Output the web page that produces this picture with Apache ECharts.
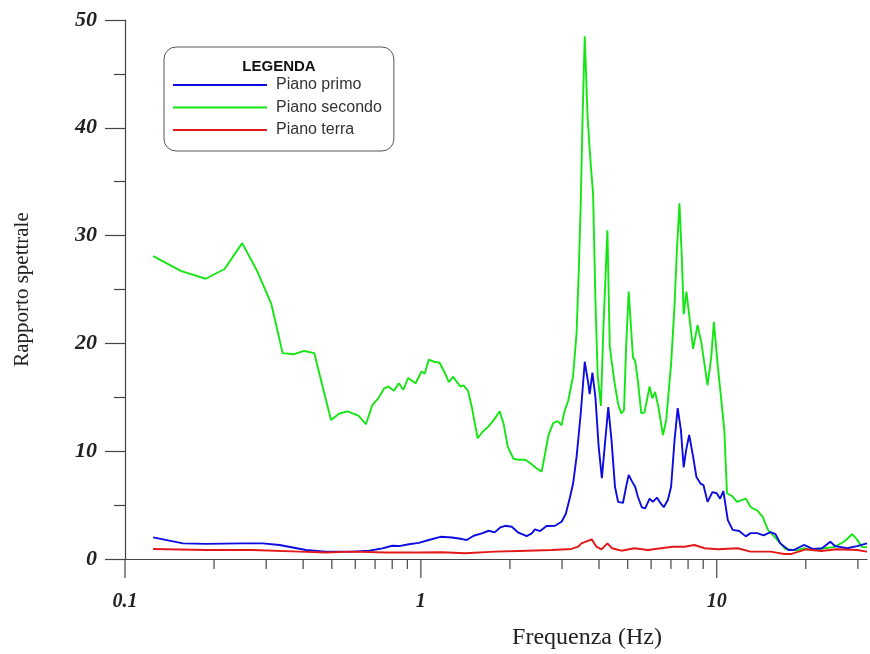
<!DOCTYPE html>
<html>
<head>
<meta charset="utf-8">
<script src="https://cdn.jsdelivr.net/npm/echarts@6/dist/echarts.min.js"></script>
<style>html,body{margin:0;padding:0;background:#fff}#c{width:870px;height:654px}</style>
</head>
<body>
<div id="c"></div>
<script>
// ---- data ----
const seriesNames = ['Piano primo', 'Piano secondo', 'Piano terra'];

const freqPrimo = [0.1245,0.157,0.188,0.25,0.292,0.333,0.409,0.477,0.587,0.668,0.741,0.8,0.843,0.911,0.985,1.064,1.165,1.275,1.378,1.43,1.508,1.608,1.694,1.775,1.855,1.928,2.029,2.137,2.279,2.37,2.43,2.53,2.66,2.84,2.99,3.09,3.19,3.27,3.36,3.47,3.58,3.68,3.72,3.8,3.89,3.99,4.09,4.18,4.3,4.41,4.53,4.64,4.82,4.94,5.04,5.17,5.3,5.41,5.58,5.73,5.93,6.08,6.28,6.45,6.62,6.84,7.01,7.2,7.38,7.57,7.73,7.88,8.07,8.32,8.54,8.81,9.02,9.31,9.67,10.0,10.26,10.53,10.9,11.32,11.91,12.54,13.0,13.7,14.4,15.2,15.8,16.4,17.5,18.2,19.7,21.1,22.7,24.2,25.1,27.6,29.8,32.2];
const valPrimo  = [2.0,1.45,1.4,1.45,1.45,1.3,0.83,0.68,0.68,0.77,0.99,1.23,1.2,1.37,1.5,1.76,2.06,2.0,1.85,1.76,2.16,2.38,2.62,2.47,2.93,3.08,2.99,2.44,2.13,2.38,2.75,2.59,3.06,3.08,3.45,4.2,5.7,7.0,9.5,13.5,18.3,16.3,15.3,17.3,15.0,10.4,7.5,10.4,14.1,11.0,6.7,5.3,5.2,6.7,7.8,7.2,6.7,5.8,4.8,4.7,5.6,5.3,5.7,5.2,4.8,5.5,6.7,11.0,14.0,11.9,8.5,10.1,11.5,9.5,7.6,7.0,6.85,5.3,6.2,6.1,5.6,6.3,3.6,2.7,2.6,2.1,2.4,2.4,2.2,2.5,2.3,1.45,0.83,0.83,1.3,0.93,1.0,1.6,1.2,1.0,1.2,1.45];

const freqSecondo = [0.1245,0.155,0.1875,0.217,0.249,0.281,0.312,0.341,0.373,0.403,0.436,0.497,0.53,0.565,0.615,0.652,0.686,0.718,0.75,0.776,0.811,0.843,0.872,0.906,0.96,1.005,1.031,1.064,1.106,1.156,1.204,1.243,1.285,1.36,1.396,1.443,1.489,1.556,1.617,1.694,1.775,1.846,1.902,1.967,2.056,2.137,2.252,2.34,2.465,2.56,2.63,2.7,2.8,2.9,2.99,3.05,3.15,3.27,3.36,3.42,3.47,3.52,3.58,3.66,3.75,3.82,3.89,3.96,4.06,4.14,4.27,4.35,4.5,4.64,4.76,4.86,4.94,5.04,5.21,5.3,5.41,5.56,5.7,5.93,6.05,6.19,6.35,6.58,6.75,7.01,7.2,7.33,7.48,7.62,7.73,7.9,8.32,8.61,8.88,9.31,9.58,9.78,10.09,10.34,10.61,10.83,11.32,11.7,12.54,13.04,13.7,14.3,14.9,16.0,17.1,18.7,19.7,21.1,23.1,24.9,26.9,28.7,29.8,31.0,32.2];
const valSecondo  = [28.1,26.7,26.0,26.9,29.3,26.6,23.7,19.1,19.0,19.3,19.1,12.9,13.5,13.7,13.3,12.5,14.3,14.9,15.8,16.0,15.6,16.3,15.7,16.8,16.3,17.4,17.2,18.5,18.3,18.2,17.3,16.4,16.9,16.0,16.1,15.6,14.0,11.2,11.8,12.3,13.0,13.7,12.6,10.4,9.3,9.2,9.2,8.9,8.4,8.1,9.8,11.5,12.6,12.8,12.4,13.6,14.7,17.0,21.0,27.0,33.0,41.0,48.5,41.0,36.6,33.9,24.0,17.0,14.2,21.5,30.5,19.7,16.6,14.4,13.5,13.8,19.7,24.8,18.7,18.4,16.6,13.5,13.6,16.0,14.9,15.5,14.1,11.5,12.9,18.1,23.5,28.5,33.0,28.0,22.7,24.8,19.5,21.7,20.0,16.1,18.7,22.0,17.8,15.0,11.9,6.1,5.8,5.3,5.6,4.8,4.5,3.9,2.7,1.8,0.9,0.8,1.0,0.8,1.0,1.1,1.6,2.3,1.8,1.1,1.1];

const freqTerra = [0.1245,0.188,0.27,0.389,0.477,0.587,0.76,0.985,1.18,1.41,1.78,2.14,2.77,3.23,3.4,3.49,3.78,3.92,4.08,4.27,4.43,4.76,5.27,5.85,6.48,7.1,7.79,8.4,9.1,10.09,11.77,13.0,15.2,16.9,17.8,20.0,22.5,25.5,29.8,32.2];
const valTerra  = [0.93,0.83,0.83,0.68,0.6,0.68,0.6,0.6,0.62,0.53,0.68,0.74,0.83,0.93,1.14,1.45,1.82,1.14,0.9,1.45,1.0,0.77,1.0,0.83,1.0,1.14,1.14,1.3,1.0,0.9,1.0,0.68,0.68,0.46,0.46,0.9,0.74,0.9,0.83,0.68];

const xLabelVals = [0.1, 1, 10];
const xMajorTicks = [0.1, 1, 10];
const xMinorTicks = [0.2,0.3,0.4,0.5,0.6,0.7,0.8,0.9,2,3,4,5,6,7,8,9,20,30];

// ---- chart ----
const zip = (f, v) => f.map((x, i) => [x, v[i]]);
const colors = ['#0c0ce0', '#14e614', '#e41818'];
const serifFont = '"Liberation Serif","Times New Roman",serif';
const sansFont = '"Liberation Sans",Arial,sans-serif';

const tickData = xMajorTicks.map(v => [v, 0, 1]).concat(xMinorTicks.map(v => [v, 0, 0]));

const chart = echarts.init(document.getElementById('c'), null, {renderer: 'canvas'});
chart.setOption({
  animation: false,
  backgroundColor: '#fff',
  grid: {left: 125, right: 0, top: 20, bottom: 95, containLabel: false},
  legend: {
    data: seriesNames,
    orient: 'vertical',
    left: 164, top: 47,
    padding: [30, 12, 13, 9],
    itemWidth: 94, itemHeight: 2, itemGap: 6.5, itemTextGap: 9,
    icon: 'rect',
    backgroundColor: '#fff',
    borderColor: '#555', borderWidth: 1, borderRadius: 12,
    textStyle: {fontFamily: sansFont, fontSize: 16, color: '#333', padding: [0, 0, 0, 4]},
    selectedMode: false
  },
  graphic: [
    {type: 'text', z: 100, x: 279, y: 67,
     style: {text: 'LEGENDA', font: 'bold 15px ' + sansFont, fill: '#111', align: 'center', verticalAlign: 'middle'}},
    {type: 'text', z: 100, x: 587, y: 638,
     style: {text: 'Frequenza (Hz)', font: '24px ' + serifFont, fill: '#222', align: 'center', verticalAlign: 'middle'}}
  ],
  xAxis: {
    type: 'log', logBase: 10, min: 0.1, max: 32.2,
    axisLine: {show: true, lineStyle: {color: '#444', width: 1.2}},
    axisTick: {show: false},
    splitLine: {show: false},
    minorTick: {show: false},
    axisLabel: {
      margin: 33,
      fontFamily: serifFont, fontStyle: 'italic', fontWeight: 'bold', fontSize: 20, color: '#222',
      showMinLabel: true, showMaxLabel: true,
      formatter: function (v) {
        for (const t of xLabelVals) { if (Math.abs(v - t) / t < 1e-6) return String(t); }
        return '';
      }
    }
  },
  yAxis: {
    type: 'value', min: 0, max: 50, interval: 10,
    name: 'Rapporto spettrale', nameLocation: 'middle', nameGap: 92,
    nameTextStyle: {fontFamily: serifFont, fontSize: 21, color: '#222'},
    axisLine: {show: true, lineStyle: {color: '#444', width: 1.2}},
    axisTick: {show: true, length: 20, lineStyle: {color: '#444', width: 1.2}},
    minorTick: {show: true, splitNumber: 2, length: 11, lineStyle: {color: '#444', width: 1.2}},
    splitLine: {show: false},
    axisLabel: {margin: 28, fontFamily: serifFont, fontStyle: 'italic', fontWeight: 'bold', fontSize: 22, color: '#222'}
  },
  series: [
    {name: seriesNames[0], type: 'line', data: zip(freqPrimo, valPrimo), showSymbol: false, symbol: 'none',
     lineStyle: {color: colors[0], width: 1.9}, itemStyle: {color: colors[0]}, z: 3},
    {name: seriesNames[1], type: 'line', data: zip(freqSecondo, valSecondo), showSymbol: false, symbol: 'none',
     lineStyle: {color: colors[1], width: 1.9}, itemStyle: {color: colors[1]}, z: 2},
    {name: seriesNames[2], type: 'line', data: zip(freqTerra, valTerra), showSymbol: false, symbol: 'none',
     lineStyle: {color: colors[2], width: 1.9}, itemStyle: {color: colors[2]}, z: 4},
    {name: 'xticks', type: 'custom', silent: true, clip: false, data: tickData,
     renderItem: function (params, api) {
       const p = api.coord([api.value(0), 0]);
       const len = api.value(2) ? 19 : 10;
       return {type: 'line', shape: {x1: p[0], y1: p[1], x2: p[0], y2: p[1] + len},
               style: {stroke: '#444', lineWidth: 1.2}};
     }}
  ]
});
</script>
</body>
</html>
